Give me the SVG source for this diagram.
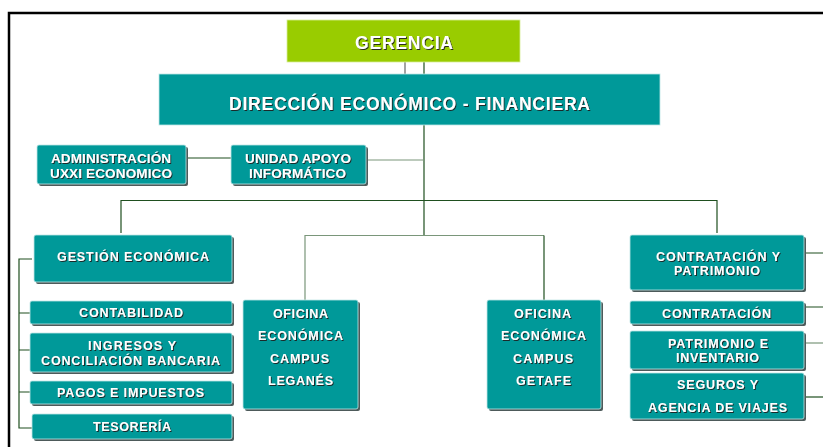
<svg xmlns="http://www.w3.org/2000/svg" width="823" height="447" viewBox="0 0 823 447">
<defs>
<filter id="ts" x="-10%" y="-30%" width="130%" height="170%">
<feDropShadow dx="1" dy="1" stdDeviation="0.4" flood-color="#1a1a1a" flood-opacity="0.9"/>
</filter>
</defs>
<style>
.sh{fill:#4d5a5a;}
.box{fill:#009999;stroke:#bfe6e6;stroke-width:0.8;}
.g{fill:#99cc00;stroke:#d8ee99;stroke-width:0.8;}
text{font-family:"Liberation Sans",Arial,sans-serif;font-weight:bold;fill:#ffffff;text-anchor:middle;filter:url(#ts);}
.s{font-size:12.5px;}
.m{font-size:13.5px;}
.l{font-size:17.5px;}
.c{fill:none;stroke:#1f4f1f;stroke-width:1.2;}
.cl{fill:none;stroke:#7a967a;stroke-width:1.2;}
.cg{fill:none;stroke:#666666;stroke-width:1.2;}
</style>
<rect width="823" height="447" fill="#ffffff"/>
<path d="M9,447 V13 H823" fill="none" stroke="#000000" stroke-width="2.5"/>
<g id="connectors">
<path class="cg" d="M405,62 V74"/>
<path class="c" d="M424,62 V74"/>
<path class="c" d="M424,125 V236"/>
<path class="c" d="M186,158 H231"/>
<path class="cl" d="M366,160 H424"/>
<path class="c" d="M121,233 V200.5 H717 V233"/>
<path class="cl" d="M305,300 V235.5 H544"/>
<path class="c" d="M544,235.5 V300"/>
<path class="c" d="M32,259 H19 V428 H32 M19,313 H30 M19,350 H30 M19,392 H30"/>
<path class="c" d="M804,253 H823 M804,307 H823"/>
<path class="cl" d="M804,343 H823"/>
<path class="c" d="M804,397 H823"/>
</g>
<g id="gerencia">
<rect class="g" x="287" y="20" width="233" height="42"/>
<text class="l" x="404" y="49" textLength="98" lengthAdjust="spacing">GERENCIA</text>
</g>
<g id="direccion">
<rect class="box" x="159" y="74" width="501" height="51"/>
<text class="l" x="409.5" y="110" textLength="361" lengthAdjust="spacing">DIRECCIÓN ECONÓMICO - FINANCIERA</text>
</g>
<g id="admin">
<rect class="sh" x="39" y="147" width="149" height="39" rx="2"/>
<rect class="box" x="37" y="145" width="149" height="39" rx="2"/>
<text class="m" x="111" y="163" textLength="120" lengthAdjust="spacing">ADMINISTRACIÓN</text>
<text class="m" x="111" y="178" textLength="122" lengthAdjust="spacing">UXXI ECONOMICO</text>
</g>
<g id="unidad">
<rect class="sh" x="233" y="147" width="135" height="39" rx="2"/>
<rect class="box" x="231" y="145" width="135" height="39" rx="2"/>
<text class="m" x="298" y="163" textLength="106" lengthAdjust="spacing">UNIDAD APOYO</text>
<text class="m" x="297.5" y="178" textLength="97" lengthAdjust="spacing">INFORMÁTICO</text>
</g>
<g id="gestion">
<rect class="sh" x="36" y="237" width="198" height="47" rx="2"/>
<rect class="box" x="34" y="235" width="198" height="47" rx="2"/>
<text class="s" x="133" y="261" textLength="152" lengthAdjust="spacing">GESTIÓN ECONÓMICA</text>
</g>
<g id="contabilidad">
<rect class="sh" x="32" y="303" width="202" height="23" rx="2"/>
<rect class="box" x="30" y="301" width="202" height="23" rx="2"/>
<text class="s" x="131" y="317" textLength="104" lengthAdjust="spacing">CONTABILIDAD</text>
</g>
<g id="ingresos">
<rect class="sh" x="32" y="335" width="202" height="39" rx="2"/>
<rect class="box" x="30" y="333" width="202" height="39" rx="2"/>
<text class="s" x="132" y="350" textLength="88" lengthAdjust="spacing">INGRESOS Y</text>
<text class="s" x="130.5" y="365" textLength="179" lengthAdjust="spacing">CONCILIACIÓN BANCARIA</text>
</g>
<g id="pagos">
<rect class="sh" x="32" y="383" width="202" height="23" rx="2"/>
<rect class="box" x="30" y="381" width="202" height="23" rx="2"/>
<text class="s" x="130.5" y="397" textLength="147" lengthAdjust="spacing">PAGOS E IMPUESTOS</text>
</g>
<g id="tesoreria">
<rect class="sh" x="34" y="416" width="200" height="25" rx="2"/>
<rect class="box" x="32" y="414" width="200" height="25" rx="2"/>
<text class="s" x="132" y="431" textLength="78" lengthAdjust="spacing">TESORERÍA</text>
</g>
<g id="leganes">
<rect class="sh" x="245" y="302" width="115" height="109" rx="2"/>
<rect class="box" x="243" y="300" width="115" height="109" rx="2"/>
<text class="s" x="300.5" y="318" textLength="55" lengthAdjust="spacing">OFICINA</text>
<text class="s" x="300.5" y="340" textLength="85" lengthAdjust="spacing">ECONÓMICA</text>
<text class="s" x="299.5" y="363" textLength="59" lengthAdjust="spacing">CAMPUS</text>
<text class="s" x="300.5" y="385" textLength="65" lengthAdjust="spacing">LEGANÉS</text>
</g>
<g id="getafe">
<rect class="sh" x="489" y="302" width="114" height="109" rx="2"/>
<rect class="box" x="487" y="300" width="114" height="109" rx="2"/>
<text class="s" x="542.5" y="318" textLength="57" lengthAdjust="spacing">OFICINA</text>
<text class="s" x="543.5" y="340" textLength="85" lengthAdjust="spacing">ECONÓMICA</text>
<text class="s" x="543" y="363" textLength="60" lengthAdjust="spacing">CAMPUS</text>
<text class="s" x="543.5" y="385" textLength="55" lengthAdjust="spacing">GETAFE</text>
</g>
<g id="contratacion-patrimonio">
<rect class="sh" x="632" y="237" width="174" height="55" rx="2"/>
<rect class="box" x="630" y="235" width="174" height="55" rx="2"/>
<text class="s" x="718" y="261" textLength="124" lengthAdjust="spacing">CONTRATACIÓN Y</text>
<text class="s" x="717" y="275" textLength="86" lengthAdjust="spacing">PATRIMONIO</text>
</g>
<g id="contratacion">
<rect class="sh" x="632" y="303" width="174" height="23" rx="2"/>
<rect class="box" x="630" y="301" width="174" height="23" rx="2"/>
<text class="s" x="716.5" y="318" textLength="109" lengthAdjust="spacing">CONTRATACIÓN</text>
</g>
<g id="patrimonio">
<rect class="sh" x="632" y="333" width="174" height="38" rx="2"/>
<rect class="box" x="630" y="331" width="174" height="38" rx="2"/>
<text class="s" x="718" y="348" textLength="100" lengthAdjust="spacing">PATRIMONIO E</text>
<text class="s" x="717.5" y="362" textLength="83" lengthAdjust="spacing">INVENTARIO</text>
</g>
<g id="seguros">
<rect class="sh" x="632" y="375" width="174" height="46" rx="2"/>
<rect class="box" x="630" y="373" width="174" height="46" rx="2"/>
<text class="s" x="717.5" y="389" textLength="81" lengthAdjust="spacing">SEGUROS Y</text>
<text class="s" x="717.5" y="412" textLength="139" lengthAdjust="spacing">AGENCIA DE VIAJES</text>
</g>
</svg>
